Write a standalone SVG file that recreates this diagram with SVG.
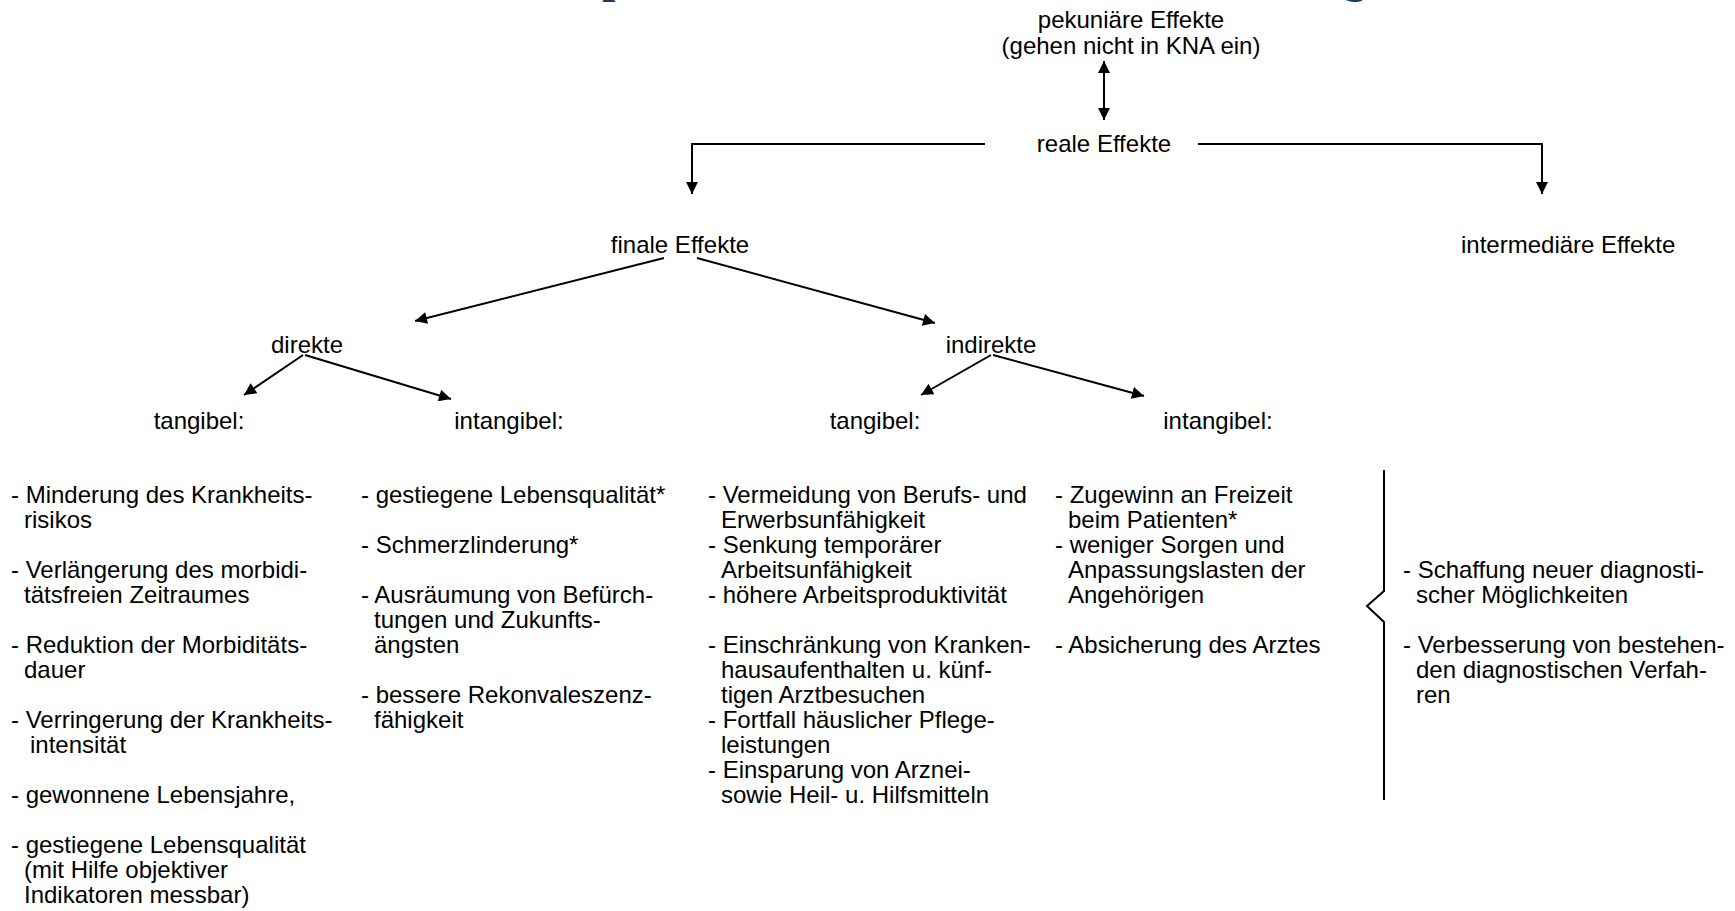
<svg xmlns="http://www.w3.org/2000/svg" width="1735" height="911" viewBox="0 0 1735 911">
<defs>
<marker id="ah" viewBox="0 0 10 10" refX="10" refY="5" markerWidth="14" markerHeight="12" orient="auto-start-reverse" markerUnits="userSpaceOnUse">
<path d="M0,0 L10,5 L0,10 z" fill="#000"/>
</marker>
<style>
text{font-family:"Liberation Sans",Arial,sans-serif;font-size:24px;fill:#000}
.c{text-anchor:middle}
.ttl{font-family:"Liberation Serif","Times New Roman",serif;font-size:48px;font-weight:bold;fill:#1b3a6b}
.ln{stroke:#000;stroke-width:2;fill:none}
.ar{stroke:#000;stroke-width:2;fill:none;marker-end:url(#ah)}
</style>
</defs>
<rect width="1735" height="911" fill="#fff"/>
<g id="title">
<text class="ttl" x="602" y="-8">p</text>
<text class="ttl" x="1343" y="-8">g</text>
</g>
<g id="connectors">
<line class="ar" x1="1104" y1="90" x2="1104" y2="61"/>
<line class="ar" x1="1104" y1="90" x2="1104" y2="120"/>
<polyline class="ar" points="985,144 692,144 692,194"/>
<polyline class="ar" points="1198,144 1542,144 1542,194"/>
<line class="ar" x1="664" y1="258" x2="415" y2="321"/>
<line class="ar" x1="697" y1="258" x2="935" y2="323"/>
<line class="ar" x1="303" y1="355" x2="244" y2="395"/>
<line class="ar" x1="305" y1="355" x2="451" y2="399"/>
<line class="ar" x1="991" y1="355" x2="921" y2="395"/>
<line class="ar" x1="993" y1="355" x2="1144" y2="396"/>
<polyline class="ln" points="1384,470 1384,591 1367,606 1384,622 1384,800"/>
</g>
<g id="pekuniaer">
<text class="c" x="1131" y="28">pekuniäre Effekte</text>
<text class="c" x="1131" y="54">(gehen nicht in KNA ein)</text>
</g>
<g id="reale"><text class="c" x="1104" y="152">reale Effekte</text></g>
<g id="finale"><text class="c" x="680" y="253">finale Effekte</text></g>
<g id="intermediaer"><text x="1461" y="253">intermediäre Effekte</text></g>
<g id="direkte"><text class="c" x="307" y="353">direkte</text></g>
<g id="indirekte"><text class="c" x="991" y="353">indirekte</text></g>
<g id="d-tangibel"><text class="c" x="199" y="429">tangibel:</text></g>
<g id="d-intangibel"><text class="c" x="509" y="429">intangibel:</text></g>
<g id="i-tangibel"><text class="c" x="875" y="429">tangibel:</text></g>
<g id="i-intangibel"><text class="c" x="1218" y="429">intangibel:</text></g>
<g id="list-d-tangibel">
<text x="11" y="503">- Minderung des Krankheits-</text>
<text x="24" y="528">risikos</text>
<text x="11" y="578">- Verlängerung des morbidi-</text>
<text x="24" y="603">tätsfreien Zeitraumes</text>
<text x="11" y="653">- Reduktion der Morbiditäts-</text>
<text x="24" y="678">dauer</text>
<text x="11" y="728">- Verringerung der Krankheits-</text>
<text x="30" y="753">intensität</text>
<text x="11" y="803">- gewonnene Lebensjahre,</text>
<text x="11" y="853">- gestiegene Lebensqualität</text>
<text x="24" y="878">(mit Hilfe objektiver</text>
<text x="24" y="903">Indikatoren messbar)</text>
</g>
<g id="list-d-intangibel">
<text x="361" y="503">- gestiegene Lebensqualität*</text>
<text x="361" y="553">- Schmerzlinderung*</text>
<text x="361" y="603">- Ausräumung von Befürch-</text>
<text x="374" y="628">tungen und Zukunfts-</text>
<text x="374" y="653">ängsten</text>
<text x="361" y="703">- bessere Rekonvaleszenz-</text>
<text x="374" y="728">fähigkeit</text>
</g>
<g id="list-i-tangibel">
<text x="708" y="503">- Vermeidung von Berufs- und</text>
<text x="721" y="528">Erwerbsunfähigkeit</text>
<text x="708" y="553">- Senkung temporärer</text>
<text x="721" y="578">Arbeitsunfähigkeit</text>
<text x="708" y="603">- höhere Arbeitsproduktivität</text>
<text x="708" y="653">- Einschränkung von Kranken-</text>
<text x="721" y="678">hausaufenthalten u. künf-</text>
<text x="721" y="703">tigen Arztbesuchen</text>
<text x="708" y="728">- Fortfall häuslicher Pflege-</text>
<text x="721" y="753">leistungen</text>
<text x="708" y="778">- Einsparung von Arznei-</text>
<text x="721" y="803">sowie Heil- u. Hilfsmitteln</text>
</g>
<g id="list-i-intangibel">
<text x="1055" y="503">- Zugewinn an Freizeit</text>
<text x="1068" y="528">beim Patienten*</text>
<text x="1055" y="553">- weniger Sorgen und</text>
<text x="1068" y="578">Anpassungslasten der</text>
<text x="1068" y="603">Angehörigen</text>
<text x="1055" y="653">- Absicherung des Arztes</text>
</g>
<g id="list-intermediaer">
<text x="1403" y="578">- Schaffung neuer diagnosti-</text>
<text x="1416" y="603">scher Möglichkeiten</text>
<text x="1403" y="653">- Verbesserung von bestehen-</text>
<text x="1416" y="678">den diagnostischen Verfah-</text>
<text x="1416" y="703">ren</text>
</g>
</svg>
